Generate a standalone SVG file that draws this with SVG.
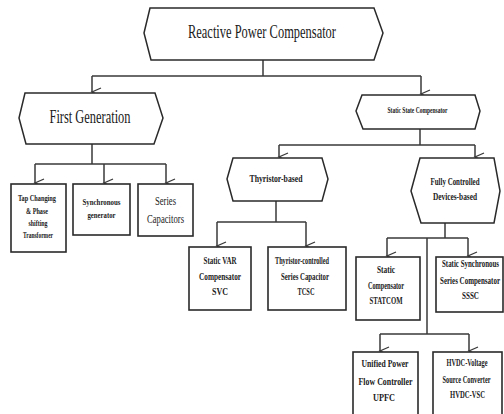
<svg xmlns="http://www.w3.org/2000/svg" width="504" height="414" viewBox="0 0 504 414">
<style>
.shape{fill:#fff;stroke:#2a2a2a;stroke-width:1.5}
.box{fill:#fff;stroke:#2a2a2a;stroke-width:1.6}
.ln{fill:none;stroke:#3a3a3a;stroke-width:1.5}
text{font-family:"Liberation Serif","Times New Roman",serif;fill:#1a1a1a;text-anchor:middle}
.big{font-size:18px}
.s8{font-size:9px;font-weight:bold}
.s10{font-size:10.5px;font-weight:bold}
.s13{font-size:13.5px}
</style>
<defs>
<marker id="arr" markerWidth="10" markerHeight="12" refX="5" refY="10" orient="auto" markerUnits="userSpaceOnUse" viewBox="0 0 10 12">
<path d="M1,1 L5,10 L9,1" fill="none" stroke="#3a3a3a" stroke-width="1.3"/>
</marker>
</defs>
<rect width="504" height="414" fill="#fff"/>
<g id="connectors">
<path class="ln" d="M263,60 V76 M92,76 H421"/>
<path class="ln" d="M92,76 V92" marker-end="url(#arr)"/>
<path class="ln" d="M421,76 V94" marker-end="url(#arr)"/>
<path class="ln" d="M92,144 V164 M35,164 H166"/>
<path class="ln" d="M35,164 V183" marker-end="url(#arr)"/>
<path class="ln" d="M104,164 V183" marker-end="url(#arr)"/>
<path class="ln" d="M166,164 V183" marker-end="url(#arr)"/>
<path class="ln" d="M420,129 V145 M279,145 H475"/>
<path class="ln" d="M279,145 V157" marker-end="url(#arr)"/>
<path class="ln" d="M475,145 V157" marker-end="url(#arr)"/>
<path class="ln" d="M276,201 V222 M217,222 H306"/>
<path class="ln" d="M217,222 V246" marker-end="url(#arr)"/>
<path class="ln" d="M306,222 V246" marker-end="url(#arr)"/>
<path class="ln" d="M445,223 V238 M387,238 H468 M427,238 V334 M380,334 H469"/>
<path class="ln" d="M387,238 V256" marker-end="url(#arr)"/>
<path class="ln" d="M468,238 V256" marker-end="url(#arr)"/>
<path class="ln" d="M380,334 V351" marker-end="url(#arr)"/>
<path class="ln" d="M469,334 V351" marker-end="url(#arr)"/>
</g>
<g id="reactive-power-compensator">
<polygon class="shape" points="144,33 150,8 374,8 383,33 374,60 151,60"/>
<text class="big" x="262" y="38" textLength="148" lengthAdjust="spacingAndGlyphs">Reactive Power Compensator</text>
</g>
<g id="first-generation">
<polygon class="shape" points="19,118 25,93 155,93 163,118 154,144 26,144"/>
<text class="big" x="90" y="122.5" textLength="81" lengthAdjust="spacingAndGlyphs">First Generation</text>
</g>
<g id="static-state-compensator">
<polygon class="shape" points="356,111 362,95 475,95 480,111 475,129 363,129"/>
<text x="417.5" y="112.5" style="font-size:8px;font-weight:bold" textLength="60" lengthAdjust="spacingAndGlyphs">Static State Compensator</text>
</g>
<g id="tap-changing">
<rect class="box" x="11" y="184" width="55" height="68"/>
<text class="s8" x="37" y="201" textLength="38" lengthAdjust="spacingAndGlyphs">Tap Changing</text>
<text class="s8" x="37" y="213.5" textLength="22" lengthAdjust="spacingAndGlyphs">&amp; Phase</text>
<text class="s8" x="38" y="225.5" textLength="19" lengthAdjust="spacingAndGlyphs">shifting</text>
<text class="s8" x="38" y="238" textLength="30" lengthAdjust="spacingAndGlyphs">Transformer</text>
</g>
<g id="synchronous-generator">
<rect class="box" x="73" y="184" width="57" height="51"/>
<text class="s8" x="101.5" y="205" textLength="38" lengthAdjust="spacingAndGlyphs">Synchronous</text>
<text class="s8" x="101.5" y="217.5" textLength="28" lengthAdjust="spacingAndGlyphs">generator</text>
</g>
<g id="series-capacitors">
<rect class="box" x="138" y="184" width="55" height="52"/>
<text class="s13" x="165.5" y="205" textLength="21" lengthAdjust="spacingAndGlyphs">Series</text>
<text class="s13" x="165.5" y="223" textLength="37" lengthAdjust="spacingAndGlyphs">Capacitors</text>
</g>
<g id="thyristor-based">
<polygon class="shape" points="227,179 233,158 322,158 328,179 322,201 233,201"/>
<text x="276" y="182" style="font-size:11px;font-weight:bold" textLength="53" lengthAdjust="spacingAndGlyphs">Thyristor-based</text>
</g>
<g id="fully-controlled">
<polygon class="shape" points="411,191 420,158 494,158 500,191 494,223 421,223"/>
<text class="s10" x="455" y="185" textLength="49" lengthAdjust="spacingAndGlyphs">Fully Controlled</text>
<text class="s10" x="455" y="200" textLength="44" lengthAdjust="spacingAndGlyphs">Devices-based</text>
</g>
<g id="svc">
<rect class="box" x="189" y="247" width="62" height="63"/>
<text class="s10" x="220" y="264" textLength="33" lengthAdjust="spacingAndGlyphs">Static VAR</text>
<text class="s10" x="220" y="279.5" textLength="42" lengthAdjust="spacingAndGlyphs">Compensator</text>
<text class="s10" x="220" y="295" textLength="16" lengthAdjust="spacingAndGlyphs">SVC</text>
</g>
<g id="tcsc">
<rect class="box" x="268" y="247" width="78" height="63"/>
<text class="s10" x="302" y="264" textLength="54" lengthAdjust="spacingAndGlyphs">Thyristor-controlled</text>
<text class="s10" x="305" y="280" textLength="48" lengthAdjust="spacingAndGlyphs">Series Capacitor</text>
<text class="s10" x="306" y="295" textLength="17" lengthAdjust="spacingAndGlyphs">TCSC</text>
</g>
<g id="statcom">
<rect class="box" x="356" y="257" width="64" height="63"/>
<text class="s10" x="386" y="273" textLength="18" lengthAdjust="spacingAndGlyphs">Static</text>
<text class="s10" x="386" y="289" textLength="36" lengthAdjust="spacingAndGlyphs">Compensator</text>
<text class="s10" x="386" y="304" textLength="33" lengthAdjust="spacingAndGlyphs">STATCOM</text>
</g>
<g id="sssc">
<rect class="box" x="436" y="257" width="67" height="55"/>
<text class="s10" transform="translate(470.5,267) scale(0.68,1)" x="0" y="0" textLength="83.8" lengthAdjust="spacingAndGlyphs">Static Synchronous</text>
<text class="s10" transform="translate(470,284) scale(0.68,1)" x="0" y="0" textLength="88.2" lengthAdjust="spacingAndGlyphs">Series Compensator</text>
<text class="s10" transform="translate(470.5,299) scale(0.68,1)" x="0" y="0" textLength="25" lengthAdjust="spacingAndGlyphs">SSSC</text>
</g>
<g id="upfc">
<rect class="box" x="353" y="352" width="65" height="64"/>
<text class="s10" x="385" y="367" textLength="47" lengthAdjust="spacingAndGlyphs">Unified Power</text>
<text class="s10" x="385.5" y="385" textLength="54" lengthAdjust="spacingAndGlyphs">Flow Controller</text>
<text class="s10" x="384" y="401" textLength="22" lengthAdjust="spacingAndGlyphs">UPFC</text>
</g>
<g id="hvdc-vsc">
<rect class="box" x="433" y="352" width="69" height="64"/>
<text class="s10" transform="translate(467,366) scale(0.68,1)" x="0" y="0" textLength="60.3" lengthAdjust="spacingAndGlyphs">HVDC-Voltage</text>
<text class="s10" transform="translate(466.5,383) scale(0.68,1)" x="0" y="0" textLength="70.6" lengthAdjust="spacingAndGlyphs">Source Converter</text>
<text class="s10" transform="translate(467.5,398) scale(0.68,1)" x="0" y="0" textLength="51.5" lengthAdjust="spacingAndGlyphs">HVDC-VSC</text>
</g>
</svg>
